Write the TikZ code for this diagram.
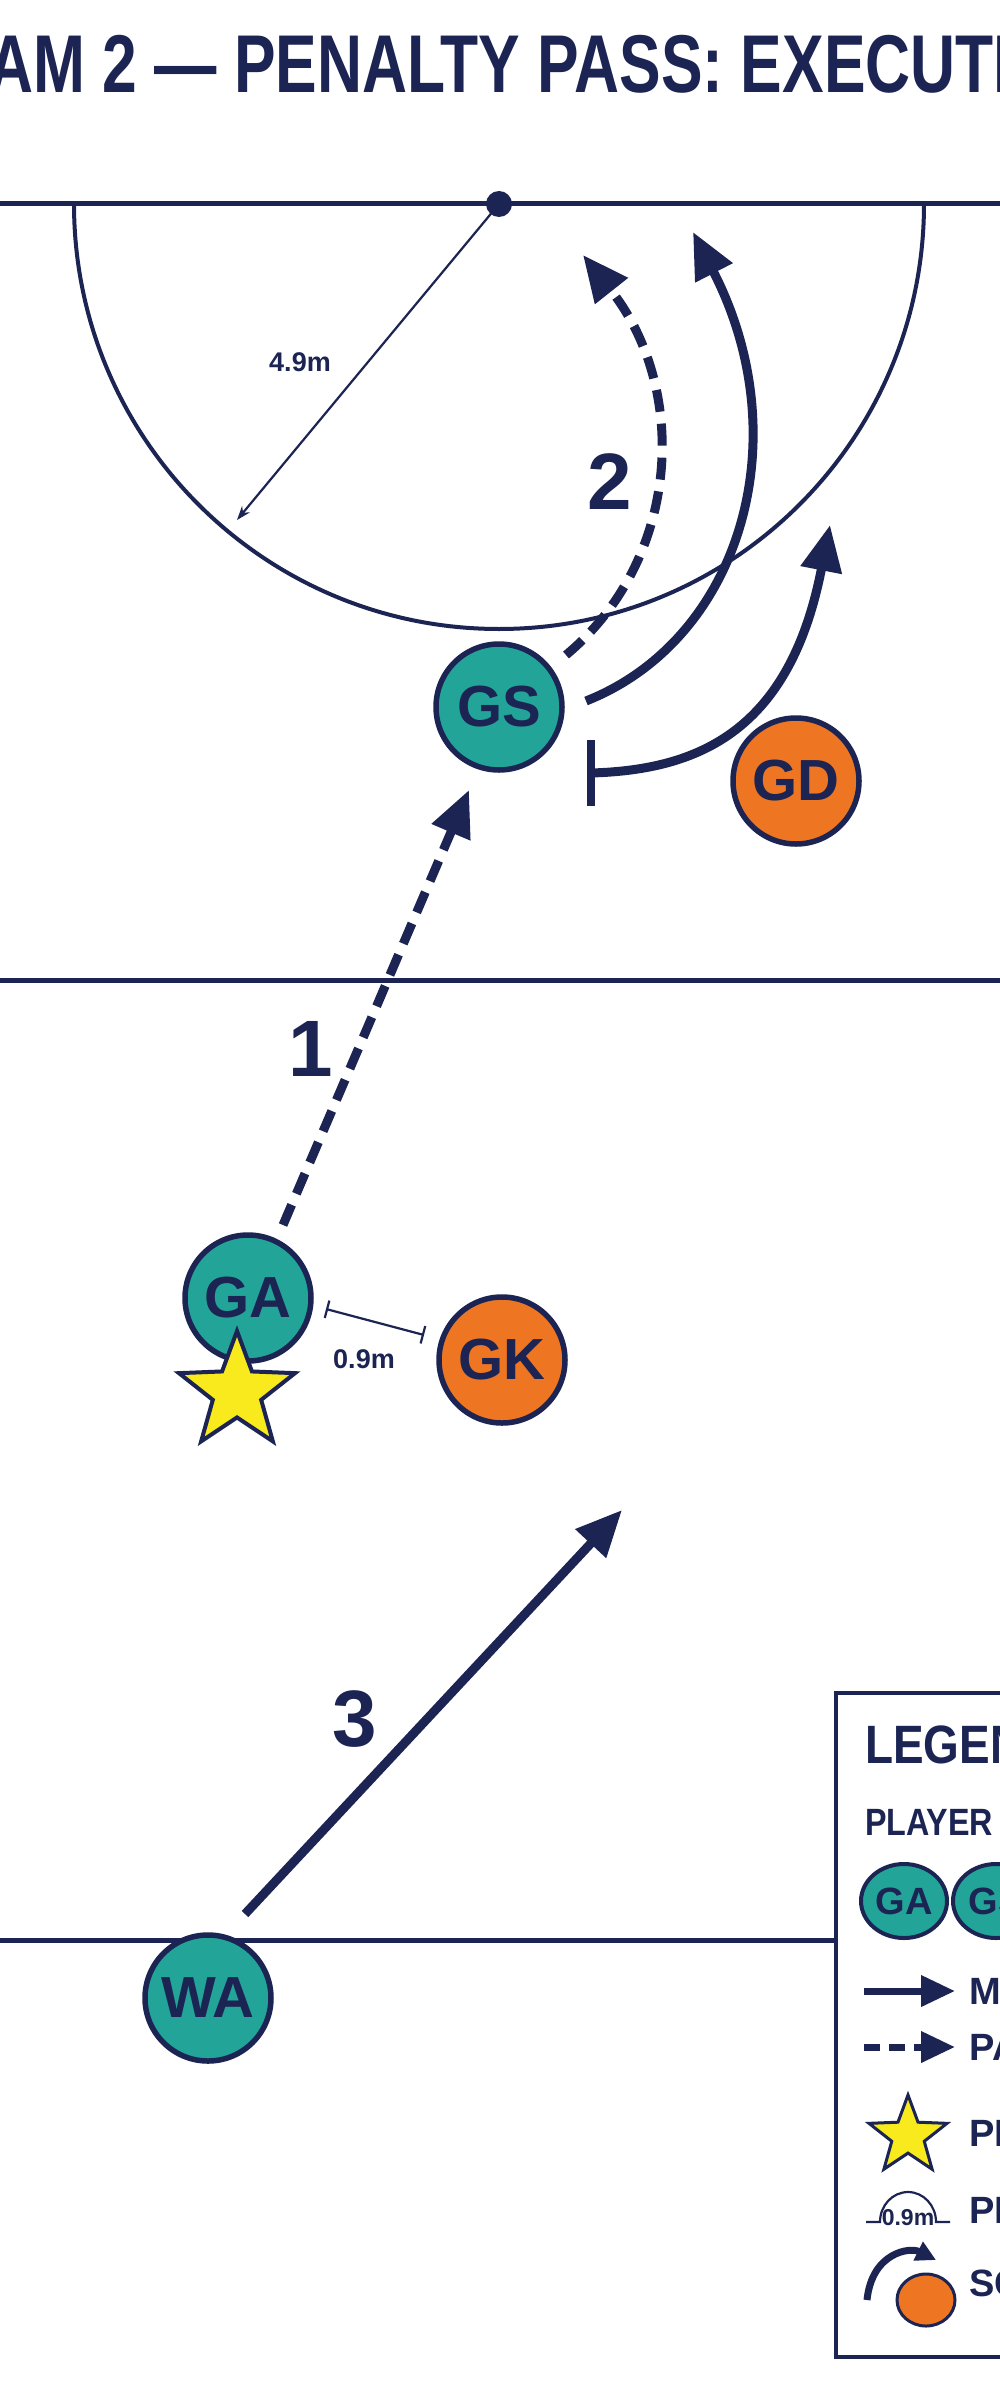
\documentclass[tikz,border=0pt]{standalone}
\usepackage{fontspec}
\setmainfont{Liberation Sans}
\usetikzlibrary{arrows.meta,shapes.geometric}
\definecolor{navy}{HTML}{1B2452}
\definecolor{teal}{HTML}{22A598}
\definecolor{orng}{HTML}{EE7623}
\definecolor{yel}{HTML}{F8EA1C}
\begin{document}
\begin{tikzpicture}[x=1pt,y=-1pt,
  court/.style={navy,line width=5pt},
  player/.style={circle,draw=navy,line width=5.5pt,minimum size=126pt,inner sep=0pt,text=navy,font=\bfseries\fontsize{58}{58}\selectfont},
  att/.style={player,fill=teal},
  def/.style={player,fill=orng},
  mv/.style={navy,line width=9pt,-{Triangle[length=46pt,width=40pt]}},
  ps/.style={mv,dash pattern=on 22pt off 12pt},
  num/.style={text=navy,font=\bfseries\fontsize{80}{80}\selectfont},
  lgt/.style={text=navy,anchor=west,font=\bfseries\fontsize{38}{38}\selectfont}]
\useasboundingbox (0,0) rectangle (1000,2400);
\clip (0,0) rectangle (1000,2400);
\fill[white] (0,0) rectangle (1000,2400);
\node[text=navy,font=\bfseries\fontsize{82}{82}\selectfont,xscale=0.76,anchor=west] (title) at (-215,64) {DIAGRAM 2 — PENALTY PASS: EXECUTION PHASE};
% court
\draw[court] (0,204) -- (1000,204);
\draw[court] (0,980) -- (1000,980);
\draw[court] (0,1940) -- (840,1940);
\coordinate (post) at (499,204);
\draw[navy,line width=4pt] (74,204) arc (180:0:425);
\fill[navy] (post) circle (13);
\coordinate (rad) at (237,520);
\draw[navy,line width=2.2pt,-{Stealth[length=14pt,width=10pt]}] (post) -- (rad);
\node[text=navy,font=\bfseries\fontsize{27}{27}\selectfont] (r49) at (300,362) {4.9m};
% players
\node[att] (GS) at (499,707) {GS};
\node[def] (GD) at (796,781) {GD};
\node[att] (GA) at (248,1298) {GA};
\node[def] (GK) at (502,1360) {GK};
\node[att] (WA) at (208,1998) {WA};
\node[star,star points=5,star point ratio=2.4,draw=navy,fill=yel,line width=4pt,minimum size=122pt,inner sep=0pt] (st) at (237,1392) {};
% 0.9m
\coordinate (oa) at (326,1309); \coordinate (ob) at (424,1335);
\draw[navy,line width=2.2pt,{Bar[width=18pt]}-{Bar[width=18pt]}] (oa) -- (ob);
\node[text=navy,font=\bfseries\fontsize{27}{27}\selectfont] (o9) at (364,1359) {0.9m};
% pass 1
\coordinate (p1s) at (283,1225); \coordinate (p1e) at (469,790);
\draw[ps] (p1s) -- (p1e);
\node[num] (n1) at (311,1049) {1};
% pass 2
\coordinate (p2s) at (566,655); \coordinate (p2e) at (583,255);
\draw[ps] (p2s) .. controls (680,560) and (690,390) .. (p2e);
\node[num] (n2) at (610,482) {2};
% move GS
\coordinate (m1s) at (586,701); \coordinate (m1e) at (693,232);
\draw[mv] (m1s) .. controls (740,640) and (800,440) .. (m1e);
\coordinate (m2s) at (591,773); \coordinate (m2e) at (830,525);
\draw[navy,line width=8pt] (591,740) -- (591,806);
\draw[mv] (m2s) .. controls (700,770) and (790,730) .. (m2e);
% move 3
\coordinate (m3s) at (245,1914); \coordinate (m3e) at (622,1510);
\draw[mv] (m3s) -- (m3e);
\node[num] (n3) at (355,1719) {3};
% legend
\draw[navy,line width=4pt,fill=white] (836,1693) rectangle (1020,2357);
\node[lgt,font=\bfseries\fontsize{54}{54}\selectfont,xscale=0.85] (lt) at (862,1745) {LEGEND};
\node[lgt,xscale=0.85] (lp) at (862,1822) {PLAYER POSITIONS};
\node[ellipse,draw=navy,fill=teal,line width=4pt,minimum width=86pt,minimum height=74pt,inner sep=0pt,text=navy,font=\bfseries\fontsize{38}{38}\selectfont] (l1) at (904,1901) {GA};
\node[ellipse,draw=navy,fill=teal,line width=4pt,minimum width=86pt,minimum height=74pt,inner sep=0pt,text=navy,font=\bfseries\fontsize{38}{38}\selectfont] (l2) at (996,1901) {GS};
\coordinate (la1) at (864,1991); \coordinate (la2) at (955,1991);
\draw[navy,line width=7pt,-{Triangle[length=34pt,width=30pt]}] (la1) -- (la2);
\node[lgt] (tm) at (966,1991) {MOVEMENT};
\coordinate (lb1) at (864,2047); \coordinate (lb2) at (955,2047);
\draw[navy,line width=7pt,dash pattern=on 16pt off 9pt,-{Triangle[length=34pt,width=30pt]}] (lb1) -- (lb2);
\node[lgt] (tp) at (966,2047) {PASS};
\node[star,star points=5,star point ratio=2.4,draw=navy,fill=yel,line width=3pt,minimum size=82pt,inner sep=0pt] (ls) at (908,2136) {};
\node[lgt] (tpl) at (966,2133) {PLAYER TAKING PENALTY};
\node[text=navy,font=\bfseries\fontsize{23}{23}\selectfont] (l09) at (908,2218) {0.9m};
\draw[navy,line width=2.2pt] (866,2222) -- (880,2222) arc (180:360:28 and 30) -- (950,2222);
\node[lgt] (tpd) at (966,2210) {PENALTY DISTANCE};
\draw[navy,line width=7pt,-{Triangle[length=20pt,width=20pt]}] (867,2300) .. controls (872,2252) and (910,2247) .. (936,2260);
\node[ellipse,fill=orng,draw=navy,line width=3pt,minimum width=58pt,minimum height=52pt] (lo) at (926,2300) {};
\node[lgt] (tsc) at (966,2283) {SCREEN};
\end{tikzpicture}
\end{document}
